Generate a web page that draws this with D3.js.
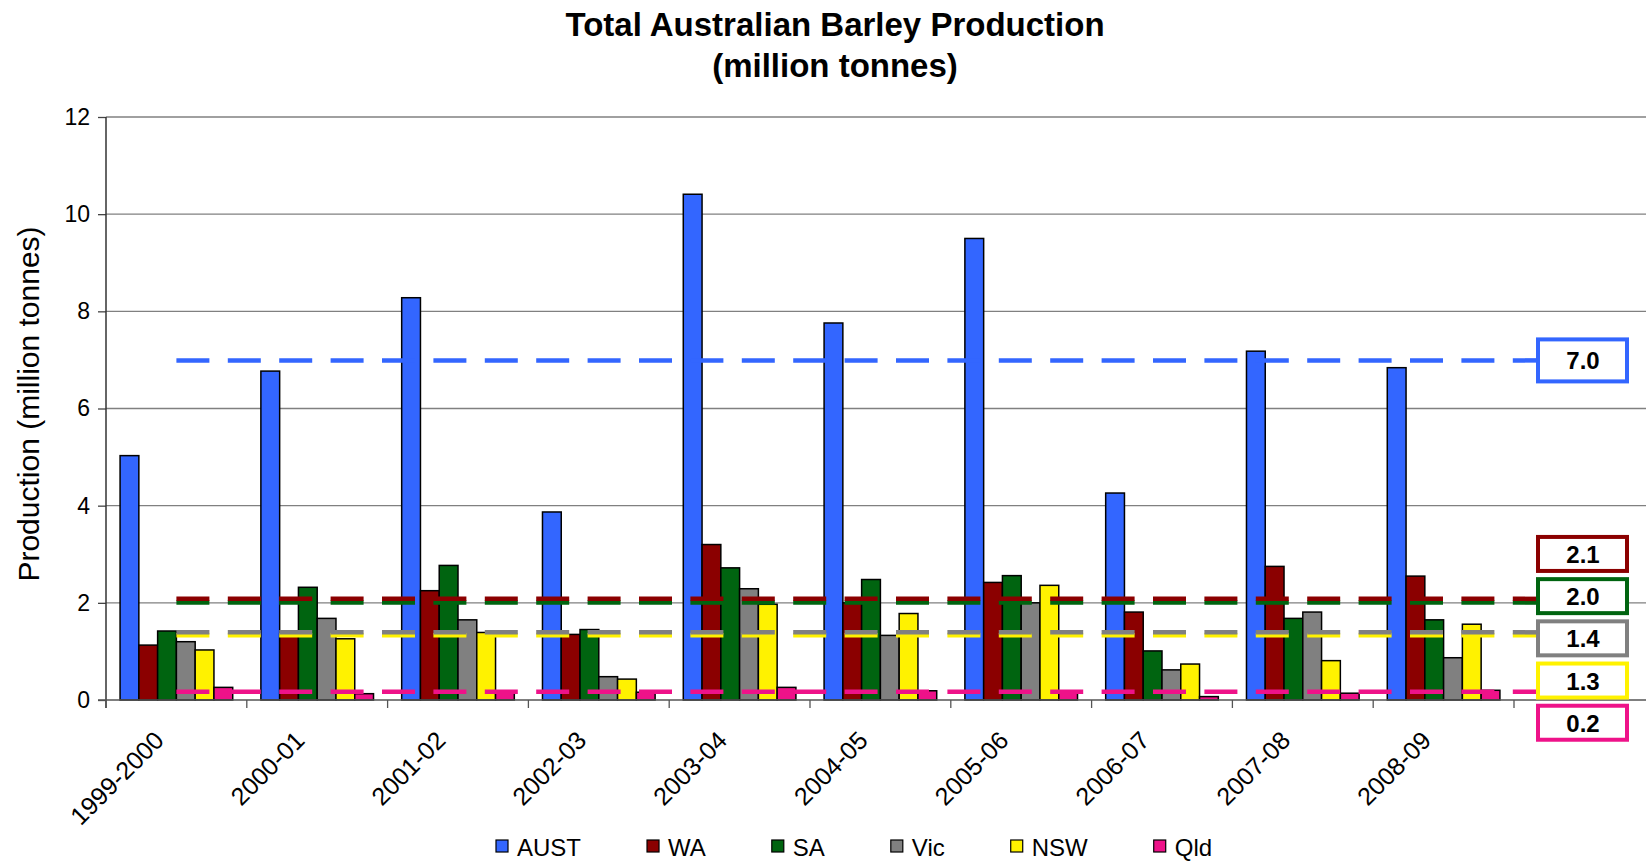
<!DOCTYPE html>
<html>
<head>
<meta charset="utf-8">
<script src="https://cdn.jsdelivr.net/npm/d3@7"></script>
<style>
body { margin: 0; background: #fff; overflow: hidden; }
text { font-family: "Liberation Sans", Arial, sans-serif; fill: #000; }
</style>
</head>
<body>
<script>
// season labels and state series (million tonnes)
var seasons = ['1999-2000', '2000-01', '2001-02', '2002-03', '2003-04',
               '2004-05', '2005-06', '2006-07', '2007-08', '2008-09'];
var seriesNames = ['AUST', 'WA', 'SA', 'Vic', 'NSW', 'Qld'];
var seriesColors = ['#3366FF', '#8B0000', '#006410', '#808080', '#FFF200', '#EE1289'];

var aust = [5.03, 6.77, 8.28, 3.87, 10.41, 7.76, 9.50, 4.26, 7.18, 6.84];
var wa   = [1.13, 1.36, 2.25, 1.35, 3.20, 2.00, 2.42, 1.81, 2.75, 2.55];
var sa   = [1.42, 2.32, 2.77, 1.45, 2.72, 2.48, 2.56, 1.01, 1.68, 1.65];
var vic  = [1.20, 1.68, 1.65, 0.48, 2.29, 1.33, 2.00, 0.62, 1.81, 0.87];
var nsw  = [1.03, 1.26, 1.39, 0.43, 1.97, 1.78, 2.36, 0.74, 0.81, 1.56];
var qld  = [0.26, 0.13, 0.15, 0.16, 0.26, 0.19, 0.14, 0.07, 0.14, 0.20];

var yTicks = [0, 2, 4, 6, 8, 10, 12];

var values = [aust, wa, sa, vic, nsw, qld];

var W = 1646, H = 861;
var svg = d3.select('body')
  .append('svg')
  .attr('width', W)
  .attr('height', H);

var x = d3.scaleBand()
  .domain(seasons)
  .range([106, 1514])
  .padding(0);
var bw = x.bandwidth();

var xs = d3.scaleBand()
  .domain(seriesNames)
  .range([bw * 0.1, bw * 0.9])
  .padding(0);

var y = d3.scaleLinear()
  .domain([0, 12])
  .range([700, 117]);

// title
svg.append('text')
  .attr('x', 835)
  .attr('y', 36)
  .attr('text-anchor', 'middle')
  .style('font-size', '33px')
  .style('font-weight', 'bold')
  .text('Total Australian Barley Production');
svg.append('text')
  .attr('x', 835)
  .attr('y', 77)
  .attr('text-anchor', 'middle')
  .style('font-size', '33px')
  .style('font-weight', 'bold')
  .text('(million tonnes)');

// gridlines
svg.append('g')
  .selectAll('line')
  .data(yTicks.filter(function(d) { return d > 0; }))
  .enter()
  .append('line')
  .attr('x1', 106)
  .attr('x2', W)
  .attr('y1', function(d) { return y(d); })
  .attr('y2', function(d) { return y(d); })
  .attr('stroke', '#808080')
  .attr('stroke-width', 1.3);

// y axis
var yAxis = d3.axisLeft(y).tickValues(yTicks).tickSize(8).tickPadding(8);
var gy = svg.append('g')
  .attr('transform', 'translate(106,0)')
  .call(yAxis);
gy.select('.domain').remove();
gy.selectAll('.tick line').attr('stroke', '#444').attr('stroke-width', 1.3);
gy.selectAll('.tick text')
  .style('font-size', '23px')
  .style('font-family', '"Liberation Sans", Arial, sans-serif');
svg.append('line')
  .attr('x1', 106).attr('x2', 106)
  .attr('y1', y(12)).attr('y2', 708)
  .attr('stroke', '#333')
  .attr('stroke-width', 1.5);

svg.append('text')
  .attr('transform', 'translate(28,404) rotate(-90)')
  .attr('text-anchor', 'middle')
  .attr('dominant-baseline', 'central')
  .style('font-size', '30px')
  .text('Production (million tonnes)');

// bars
var groups = svg.append('g')
  .selectAll('g')
  .data(seasons)
  .enter()
  .append('g')
  .attr('transform', function(d) { return 'translate(' + x(d) + ',0)'; });

groups.selectAll('rect')
  .data(function(d, i) {
    return seriesNames.map(function(s, j) { return { s: s, v: values[j][i], c: seriesColors[j] }; });
  })
  .enter()
  .append('rect')
  .attr('x', function(d) { return xs(d.s); })
  .attr('width', xs.bandwidth())
  .attr('y', function(d) { return y(d.v); })
  .attr('height', function(d) { return y(0) - y(d.v); })
  .attr('fill', function(d) { return d.c; })
  .attr('stroke', '#000')
  .attr('stroke-width', 1.5);

// x axis
svg.append('line')
  .attr('x1', 98).attr('x2', W)
  .attr('y1', 700).attr('y2', 700)
  .attr('stroke', '#555')
  .attr('stroke-width', 1.5);
svg.append('g')
  .selectAll('line')
  .data(seasons.concat(['end']))
  .enter()
  .append('line')
  .attr('x1', function(d, i) { return 106 + i * bw; })
  .attr('x2', function(d, i) { return 106 + i * bw; })
  .attr('y1', 700)
  .attr('y2', 708)
  .attr('stroke', '#555')
  .attr('stroke-width', 1.3);
svg.append('g')
  .selectAll('text')
  .data(seasons)
  .enter()
  .append('text')
  .attr('transform', function(d) {
    return 'translate(' + (x(d) + bw / 2 - 11) + ',742) rotate(-45)';
  })
  .attr('text-anchor', 'end')
  .style('font-size', '25px')
  .text(function(d) { return d; });

// average lines
var means = values.map(function(v) { return d3.mean(v); });
var lineEnd = 1536;
var order = [5, 4, 3, 2, 1, 0];
svg.append('g')
  .selectAll('line')
  .data(order)
  .enter()
  .append('line')
  .attr('x1', x(seasons[0]) + bw / 2)
  .attr('x2', lineEnd)
  .attr('y1', function(j) { return y(means[j]); })
  .attr('y2', function(j) { return y(means[j]); })
  .attr('stroke', function(j) { return seriesColors[j]; })
  .attr('stroke-width', 4.5)
  .attr('stroke-dasharray', '33 18.4');

// average labels, stacked so they don't overlap
var labels = seriesNames.map(function(s, j) {
  return { j: j, ideal: y(means[j]), h: j === 0 ? 46 : 38 };
}).sort(function(a, b) { return a.ideal - b.ideal; });
var step = 42.2;
var clusters = [];
labels.forEach(function(l) {
  var last = clusters[clusters.length - 1];
  if (last && l.ideal - last[last.length - 1].ideal < 40) last.push(l);
  else clusters.push([l]);
});
clusters.forEach(function(c) {
  var m = d3.mean(c, function(l) { return l.ideal; });
  c.forEach(function(l, k) { l.cy = m + (k - (c.length - 1) / 2) * step; });
});
for (var k = 1; k < labels.length; k++) {
  if (labels[k].cy < labels[k - 1].cy + step) labels[k].cy = labels[k - 1].cy + step;
}

var boxes = svg.append('g')
  .selectAll('g')
  .data(labels)
  .enter()
  .append('g');
boxes.append('rect')
  .attr('x', 1538)
  .attr('width', 89)
  .attr('y', function(d) { return d.cy - d.h / 2 + 2; })
  .attr('height', function(d) { return d.h - 4; })
  .attr('fill', '#fff')
  .attr('stroke', function(d) { return seriesColors[d.j]; })
  .attr('stroke-width', 4);
boxes.append('text')
  .attr('x', 1583)
  .attr('y', function(d) { return d.cy + 9; })
  .attr('text-anchor', 'middle')
  .style('font-size', '24px')
  .style('font-weight', 'bold')
  .text(function(d) { return d3.format('.1f')(means[d.j]); });

// legend
var lx = 496;
seriesNames.forEach(function(s, j) {
  svg.append('rect')
    .attr('x', lx)
    .attr('y', 840)
    .attr('width', 12)
    .attr('height', 12)
    .attr('fill', seriesColors[j])
    .attr('stroke', '#000')
    .attr('stroke-width', 1.2);
  var t = svg.append('text')
    .attr('x', lx + 21)
    .attr('y', 856)
    .style('font-size', '24px')
    .text(s);
  lx += 21 + t.node().getComputedTextLength() + 66;
});
</script>
</body>
</html>
